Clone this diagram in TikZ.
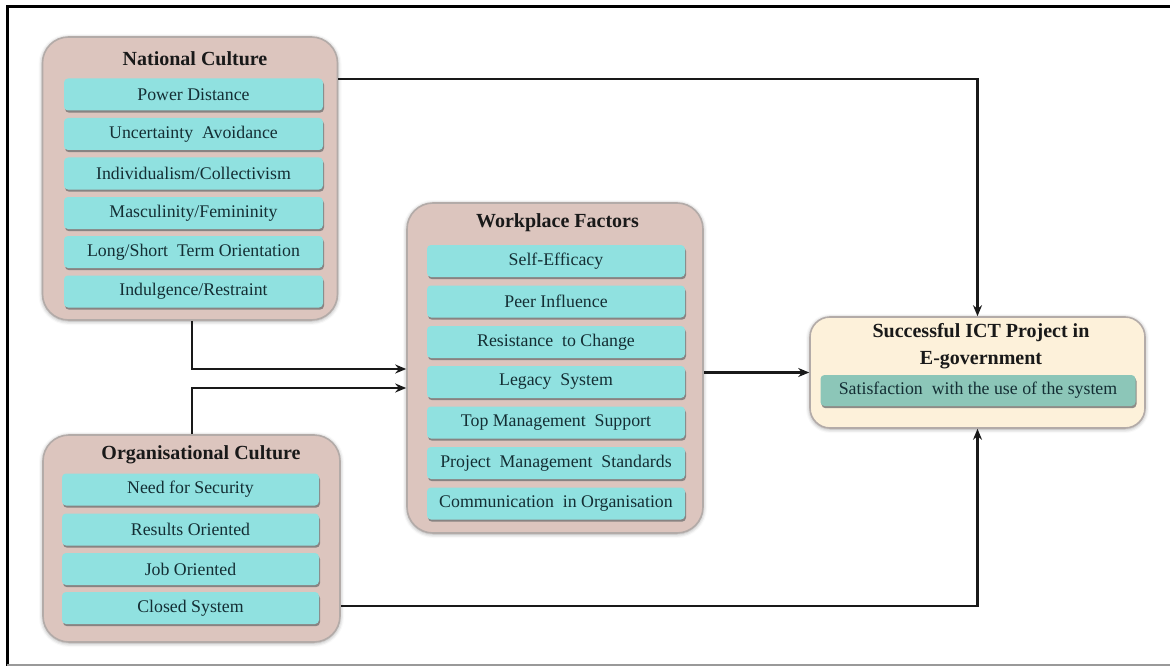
\documentclass[tikz,border=0pt]{standalone}
\usepackage{fontspec}
\setmainfont{Liberation Serif}
\usetikzlibrary{arrows.meta,shadows,shadows.blur}

\definecolor{groupfill}{HTML}{DCC5BE}
\definecolor{groupedge}{HTML}{B3ABA8}
\definecolor{itemfill}{HTML}{90E1E0}
\definecolor{itemtext}{HTML}{142E34}
\definecolor{goalfill}{HTML}{FDF1DA}
\definecolor{goalitem}{HTML}{8CC6B8}

\tikzset{
  group/.style={draw=groupedge, line width=1.6pt, fill=groupfill, rounded corners=26pt,
    blur shadow={shadow xshift=0pt, shadow yshift=-1pt, shadow blur radius=4pt, shadow opacity=40},
    inner sep=0pt},
  goal/.style={group, fill=goalfill, rounded corners=20pt},
  title/.style={font=\fontsize{20}{23}\selectfont\bfseries, text=black!90, align=center},
  item/.style={fill=itemfill, rounded corners=4pt, minimum height=32pt, inner sep=0pt,
    text=itemtext, font=\fontsize{17.8}{20}\selectfont,
    drop shadow={shadow xshift=1pt, shadow yshift=-2.2pt, fill=black!55, opacity=0.8}},
  natitem/.style={item, minimum width=259pt},
  orgitem/.style={item, minimum width=257pt},
  wfitem/.style={item, minimum width=258pt},
  goalsub/.style={item, fill=goalitem, minimum width=315pt, minimum height=31pt},
  conn/.style={draw=black!90, line width=2.5pt, -{Stealth[length=11pt,width=9pt]}},
}

\begin{document}
\begin{tikzpicture}[x=1pt, y=-1pt]
\useasboundingbox (0,0) rectangle (1170,666);

% page frame
\draw[black, line width=3pt] (1170,7) -- (7,7) -- (7,666);
\draw[black!40, line width=2pt] (7,664.5) -- (1170,664.5);

% ---- National Culture ----
\node[group, minimum width=295pt, minimum height=283pt] (nat) at (190,178.5) {};
\node[title] (natT) at (195,59) {National Culture};
\node[natitem] (n1) at (193.5,94.5) {Power Distance};
\node[natitem] (n2) at (193.5,134) {Uncertainty\ \ Avoidance};
\node[natitem] (n3) at (193.5,173.5) {Individualism/Collectivism};
\node[natitem] (n4) at (193.5,213) {Masculinity/Femininity};
\node[natitem] (n5) at (193.5,252) {Long/Short\ \ Term Orientation};
\node[natitem] (n6) at (193.5,291.5) {Indulgence/Restraint};

% ---- Organisational Culture ----
\node[group, minimum width=297pt, minimum height=207pt] (org) at (191.5,538.5) {};
\node[title] (orgT) at (201,455) {Organisational Culture};
\node[orgitem] (o1) at (190.5,489.5) {Need for Security};
\node[orgitem] (o2) at (190.5,529.5) {Results Oriented};
\node[orgitem] (o3) at (190.5,569) {Job Oriented};
\node[orgitem] (o4) at (190.5,608) {Closed System};

% ---- Workplace Factors ----
\node[group, minimum width=296pt, minimum height=330pt] (wf) at (555,368) {};
\node[title] (wfT) at (557.5,223) {Workplace Factors};
\node[wfitem] (w1) at (556,261) {Self-Efficacy};
\node[wfitem] (w2) at (556,301.5) {Peer Influence};
\node[wfitem] (w3) at (556,342) {Resistance\ \ to Change};
\node[wfitem] (w4) at (556,382) {Legacy\ \ System};
\node[wfitem] (w5) at (556,422.5) {Top Management\ \ Support};
\node[wfitem] (w6) at (556,463) {Project\ \ Management\ \ Standards};
\node[wfitem] (w7) at (556,503.5) {Communication\ \ in Organisation};

% ---- Successful ICT Project ----
\node[goal, minimum width=335pt, minimum height=111pt] (succ) at (977.5,372.5) {};
\node[title, font=\fontsize{20}{27}\selectfont\bfseries] (succT) at (981,346.5) {Successful ICT Project in\\E-government};
\node[goalsub] (s1) at (978,390.5) {Satisfaction\ \ with the use of the system};

% ---- connectors ----
\draw[conn] (nat.east |- 0,79) -| (succ.north);
\draw[conn] (nat.south -| 192,0) |- (wf.west |- 0,369);
\draw[conn] (org.north -| 192,0) |- (wf.west |- 0,388);
\draw[conn] (wf.east |- succ.west) -- (succ.west);
\draw[conn] (org.east |- 0,606) -| (succ.south);
\end{tikzpicture}
\end{document}
